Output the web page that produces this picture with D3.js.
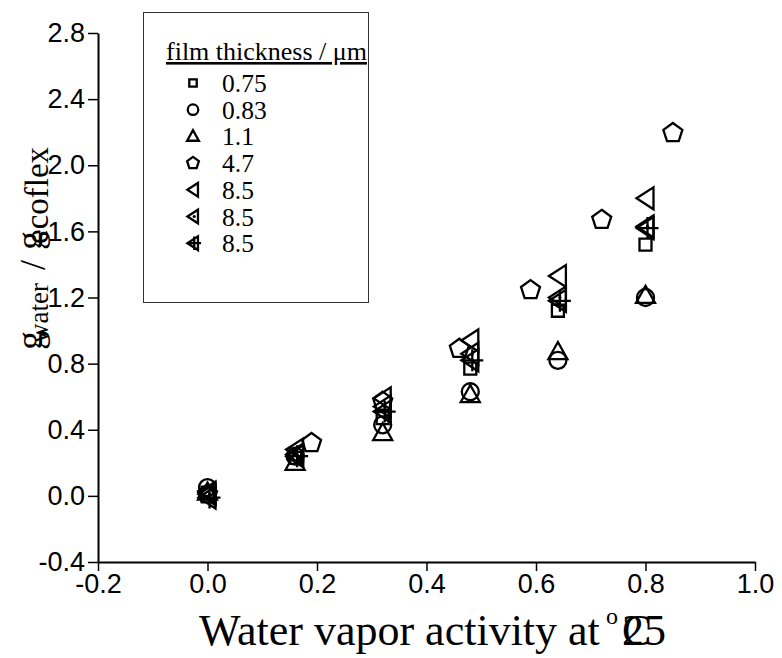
<!DOCTYPE html>
<html>
<head>
<meta charset="utf-8">
<script src="https://cdn.jsdelivr.net/npm/d3@7"></script>
<style>
  body { margin: 0; background: #fff; }
  svg { display: block; }
</style>
</head>
<body>
<svg id="chart" width="782" height="658"></svg>
<script>
// water uptake vs activity, one series per film
var xTicks = [-0.2, 0.0, 0.2, 0.4, 0.6, 0.8, 1.0];
var yTicks = [-0.4, 0.0, 0.4, 0.8, 1.2, 1.6, 2.0, 2.4, 2.8];

var activity = [0.0, 0.16, 0.32, 0.48, 0.64, 0.80];
var film075 = [0.02, 0.23, 0.47, 0.77, 1.12, 1.52];
var film083 = [0.05, 0.24, 0.43, 0.63, 0.82, 1.20];
var film11 = [0.02, 0.20, 0.38, 0.61, 0.87, 1.21];
var film47X = [0.0, 0.19, 0.32, 0.46, 0.59, 0.72, 0.85];
var film47 = [0.01, 0.32, 0.57, 0.89, 1.245, 1.67, 2.195];
var film85a = [0.02, 0.28, 0.59, 0.94, 1.33, 1.80];
var film85b = [0.01, 0.25, 0.54, 0.86, 1.20, 1.63];
var film85c = [-0.01, 0.24, 0.51, 0.82, 1.18, 1.62];

var legendLabels = ['0.75', '0.83', '1.1', '4.7', '8.5', '8.5', '8.5'];
var shapes = ['square', 'circle', 'triUp', 'pentagon', 'triLeft', 'triDot', 'triPlus'];

var series = [
  { shape: 'square', xs: activity, ys: film075 },
  { shape: 'circle', xs: activity, ys: film083 },
  { shape: 'triUp', xs: activity, ys: film11 },
  { shape: 'pentagon', xs: film47X, ys: film47 },
  { shape: 'triLeft', xs: activity, ys: film85a },
  { shape: 'triDot', xs: activity, ys: film85b },
  { shape: 'triPlus', xs: activity, ys: film85c }
];

var svg = d3.select('#chart'),
    x = d3.scaleLinear().domain([-0.2, 1.0]).range([98, 755]),
    y = d3.scaleLinear().domain([-0.4, 2.8]).range([562, 33]),
    fmt = function(d) { return d.toFixed(1); },
    serif = '"Liberation Serif", "Times New Roman", serif';

// marker outline, k = scale
var shapePath = function(type, k) {
  var p = d3.path(), i, a;
  if (type === 'square') {
    p.rect(-6 * k, -6 * k, 12 * k, 12 * k);
  } else if (type === 'circle') {
    p.arc(0, 0, 8.5 * k, 0, 2 * Math.PI);
  } else if (type === 'triUp') {
    p.moveTo(0, -10 * k); p.lineTo(9.5 * k, 7 * k); p.lineTo(-9.5 * k, 7 * k); p.closePath();
  } else if (type === 'pentagon') {
    for (i = 0; i < 5; i++) {
      a = -Math.PI / 2 + i * 2 * Math.PI / 5;
      if (i === 0) p.moveTo(10 * k * Math.cos(a), 10 * k * Math.sin(a));
      else p.lineTo(10 * k * Math.cos(a), 10 * k * Math.sin(a));
    }
    p.closePath();
  } else {
    p.moveTo(-9 * k, 0); p.lineTo(8 * k, -11 * k); p.lineTo(8 * k, 11 * k); p.closePath();
    if (type === 'triPlus') {
      p.moveTo(-9 * k, 0); p.lineTo(13 * k, 0);
      p.moveTo(2 * k, -11 * k); p.lineTo(2 * k, 11 * k);
    }
  }
  return p.toString();
};

var drawMarker = function(g, type, k) {
  g.append('path')
    .attr('d', shapePath(type, k))
    .attr('fill', 'none')
    .attr('stroke', '#000')
    .attr('stroke-width', 2.3);
  if (type === 'triDot') {
    g.append('circle').attr('cx', 2 * k).attr('cy', 0).attr('r', 1.6).attr('fill', '#000');
  }
};

// axes
var yAxis = svg.append('g')
  .attr('transform', 'translate(' + x(-0.2) + ',0)')
  .call(d3.axisLeft(y).tickValues(yTicks).tickFormat(fmt).tickSize(10).tickPadding(3).tickSizeOuter(0));

var xAxis = svg.append('g')
  .attr('transform', 'translate(0,' + y(-0.4) + ')')
  .call(d3.axisBottom(x).tickValues(xTicks).tickFormat(fmt).tickSize(9).tickPadding(3).tickSizeOuter(0));

[yAxis, xAxis].forEach(function(ax) {
  ax.select('.domain').attr('stroke', '#000').attr('stroke-width', 2);
  ax.selectAll('.tick line').attr('stroke', '#000').attr('stroke-width', 1.5);
  ax.selectAll('.tick text')
    .attr('fill', '#000')
    .style('font-family', '"Liberation Sans", Arial, sans-serif')
    .style('font-size', '27px');
});

// points
series.forEach(function(s) {
  s.ys.forEach(function(v, i) {
    var g = svg.append('g').attr('transform', 'translate(' + x(s.xs[i]) + ',' + y(v) + ')');
    drawMarker(g, s.shape, 1);
  });
});

// legend
var legend = svg.append('g').attr('class', 'legend');
legend.append('rect')
  .attr('x', 143.5).attr('y', 12.5).attr('width', 225).attr('height', 290)
  .attr('fill', 'none').attr('stroke', '#333').attr('stroke-width', 1);

legend.append('text')
  .attr('x', 166).attr('y', 60)
  .style('font-family', serif)
  .style('font-size', '26px')
  .style('text-decoration', 'underline')
  .text('film thickness / \u03bcm');

legendLabels.forEach(function(lab, i) {
  var cy = 83 + i * 26.7;
  var g = legend.append('g').attr('transform', 'translate(193,' + cy + ')');
  drawMarker(g, shapes[i], 0.62);
  legend.append('text')
    .attr('x', 222).attr('y', cy + 9)
    .style('font-family', serif)
    .style('font-size', '25.5px')
    .text(lab);
});

// x title, with the overlapping degree sign as in the source
var xt = svg.append('g').style('font-family', serif).attr('fill', '#000');
xt.append('text').attr('x', 199).attr('y', 645).style('font-size', '44px').text('Water vapor activity at');
xt.append('text').attr('x', 606).attr('y', 624).style('font-size', '24px').text('o');
xt.append('text').attr('x', 622).attr('y', 645).style('font-size', '44px').text('25');
xt.append('text').attr('x', 622).attr('y', 645).style('font-size', '44px').text('C');

// y title, rotated, subscripts overlapping their g
var yt = svg.append('g').attr('transform', 'rotate(-90)').style('font-family', serif).attr('fill', '#000');
yt.append('text').attr('x', -350).attr('y', 42).style('font-size', '38px').text('g');
yt.append('text').attr('x', -343).attr('y', 48).style('font-size', '27px').text('water');
yt.append('text').attr('x', -270).attr('y', 45).style('font-size', '36px').text('/');
yt.append('text').attr('x', -250).attr('y', 42).style('font-size', '38px').text('g');
yt.append('text').attr('x', -244).attr('y', 48).style('font-size', '33px').text('ecoflex');
</script>
</body>
</html>
